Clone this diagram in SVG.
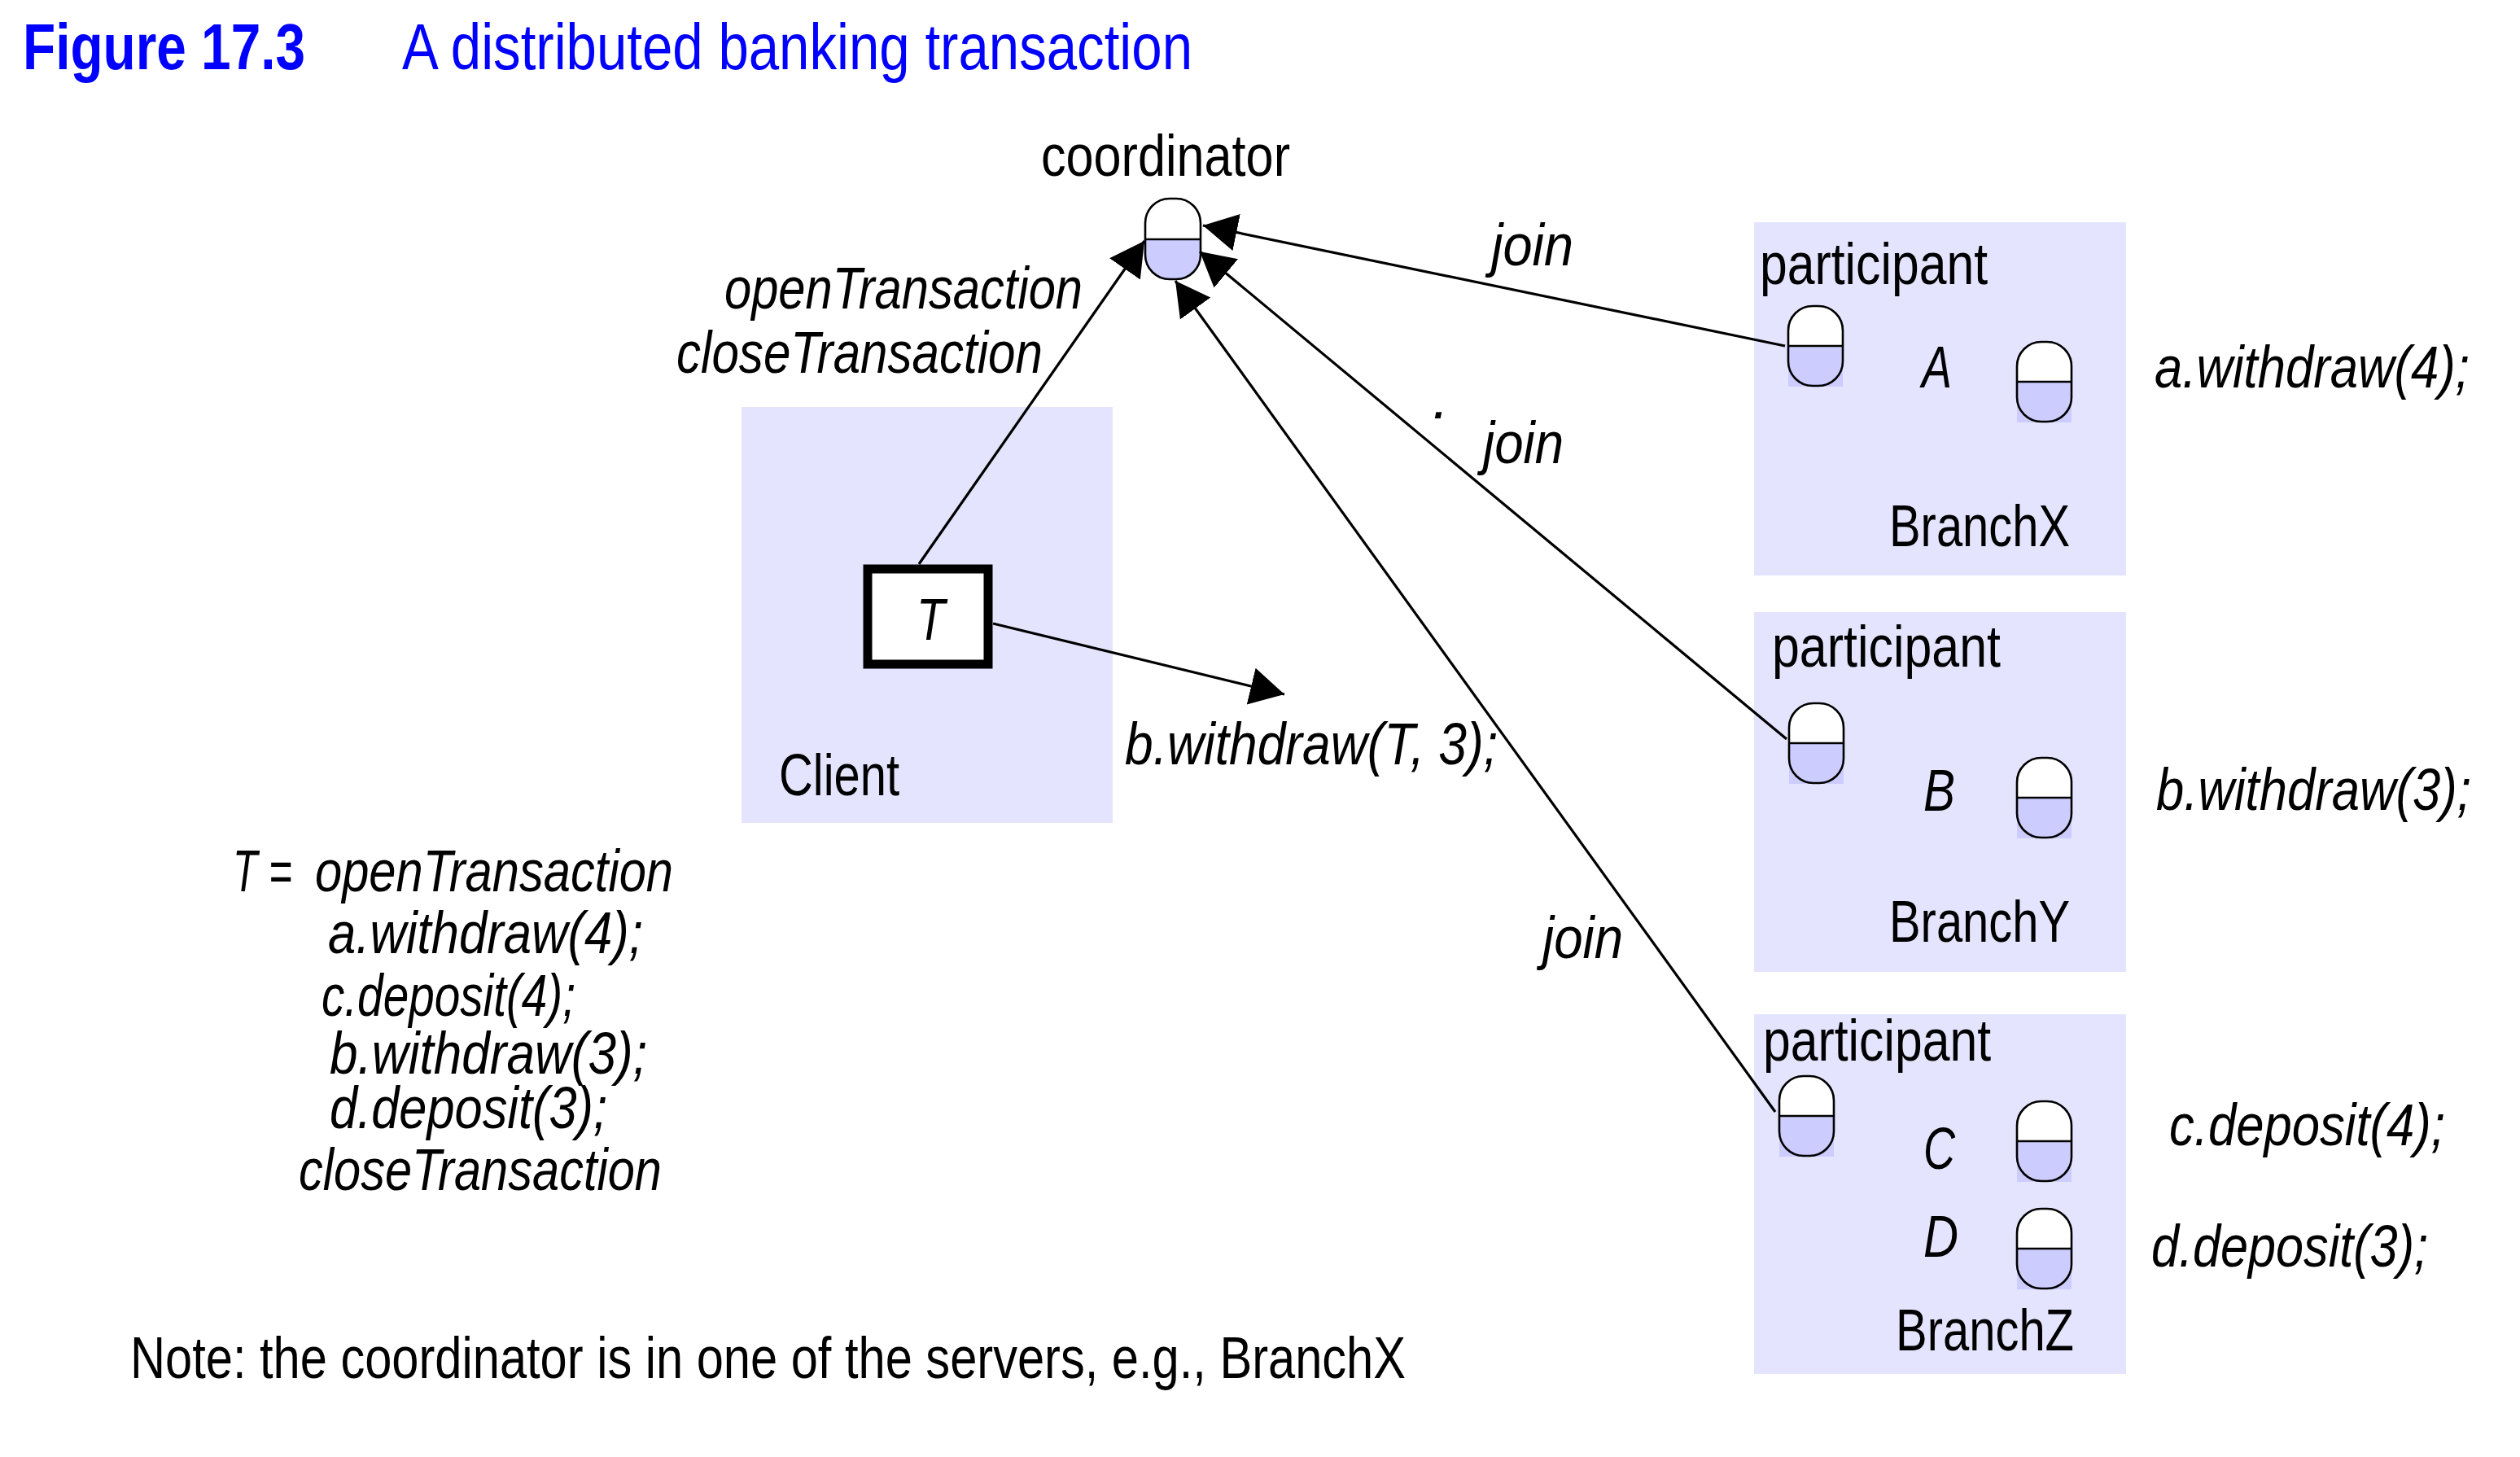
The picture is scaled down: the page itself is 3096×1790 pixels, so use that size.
<svg xmlns="http://www.w3.org/2000/svg" width="3096" height="1790" viewBox="0 0 3096 1790">
<style>
text{font-family:"Liberation Sans",Arial,sans-serif;font-size:72px;fill:#000}
.i{font-style:italic}
.h{font-size:80px;fill:#00f}
.b{font-weight:bold}
.box{fill:#e4e4ff}
.con{stroke:#000;stroke-width:3.2;fill:none;marker-end:url(#arrow)}
.out{fill:none;stroke:#000;stroke-width:2.6}
</style>
<defs>
<marker id="arrow" markerUnits="userSpaceOnUse" markerWidth="44" markerHeight="50" viewBox="0 0 44 50" refX="42" refY="25" orient="auto"><path d="M0 2L42 25L0 48Z" fill="#000"/></marker>
<g id="pill">
<rect x="1" y="50" width="67" height="50" fill="#ccf"/>
<path d="M1 50V31A30 30 0 0 1 31 1H38A30 30 0 0 1 68 31V50Z" fill="#fff"/>
<path class="out" d="M1 31A30 30 0 0 1 31 1H38A30 30 0 0 1 68 31V69A30 30 0 0 1 38 99H31A30 30 0 0 1 1 69ZM1 50H68"/>
</g>
</defs>
<g id="title">
<text class="h b" x="28" y="85" textLength="347" lengthAdjust="spacingAndGlyphs">Figure 17.3</text>
<text class="h" x="494" y="85" textLength="971" lengthAdjust="spacingAndGlyphs">A distributed banking transaction</text>
</g>
<g id="client">
<rect class="box" x="911" y="500" width="456" height="511"/>
<text x="957" y="977" textLength="148" lengthAdjust="spacingAndGlyphs">Client</text>
</g>
<g id="branchX">
<rect class="box" x="2155" y="273" width="457" height="434"/>
<text x="2162" y="349" textLength="280" lengthAdjust="spacingAndGlyphs">participant</text>
<text class="i" x="2361" y="476" textLength="37" lengthAdjust="spacingAndGlyphs">A</text>
<text x="2321" y="671" textLength="222" lengthAdjust="spacingAndGlyphs">BranchX</text>
<use href="#pill" x="2196" y="375"/>
<use href="#pill" x="2477" y="419"/>
</g>
<g id="branchY">
<rect class="box" x="2155" y="752" width="457" height="442"/>
<text x="2177" y="819" textLength="281" lengthAdjust="spacingAndGlyphs">participant</text>
<text class="i" x="2363" y="996" textLength="39" lengthAdjust="spacingAndGlyphs">B</text>
<text x="2321" y="1157" textLength="222" lengthAdjust="spacingAndGlyphs">BranchY</text>
<use href="#pill" x="2197" y="863"/>
<use href="#pill" x="2477" y="930"/>
</g>
<g id="branchZ">
<rect class="box" x="2155" y="1246" width="457" height="442"/>
<text x="2166" y="1303" textLength="280" lengthAdjust="spacingAndGlyphs">participant</text>
<text class="i" x="2363" y="1436" textLength="39" lengthAdjust="spacingAndGlyphs">C</text>
<text class="i" x="2363" y="1544" textLength="43" lengthAdjust="spacingAndGlyphs">D</text>
<text x="2329" y="1659" textLength="219" lengthAdjust="spacingAndGlyphs">BranchZ</text>
<use href="#pill" x="2185" y="1321"/>
<use href="#pill" x="2477" y="1352"/>
<use href="#pill" x="2477" y="1484"/>
</g>
<g id="coordinator">
<text x="1279" y="216" textLength="306" lengthAdjust="spacingAndGlyphs">coordinator</text>
<path d="M1407 294V313A30 30 0 0 0 1437 343H1445A30 30 0 0 0 1475 313V294Z" fill="#ccf"/>
<path class="out" d="M1407 274A30 30 0 0 1 1437 244H1445A30 30 0 0 1 1475 274V313A30 30 0 0 1 1445 343H1437A30 30 0 0 1 1407 313ZM1407 294H1475"/>
</g>
<g id="transactionT">
<rect x="1066" y="699" width="148" height="117" fill="#fff" stroke="#000" stroke-width="11"/>
<text class="i" x="1126" y="786" textLength="35" lengthAdjust="spacingAndGlyphs">T</text>
</g>
<g id="connectors">
<line class="con" x1="1129" y1="693" x2="1406" y2="296"/>
<line class="con" x1="2193" y1="425" x2="1478" y2="277"/>
<line class="con" x1="2195" y1="908" x2="1474" y2="309"/>
<line class="con" x1="2181" y1="1366" x2="1444" y2="345"/>
<line class="con" x1="1220" y1="766" x2="1578" y2="853"/>
</g>
<g id="labels">
<text class="i" x="890" y="379" textLength="440" lengthAdjust="spacingAndGlyphs">openTransaction</text>
<text class="i" x="831" y="458" textLength="450" lengthAdjust="spacingAndGlyphs">closeTransaction</text>
<text class="i" x="1832" y="326" textLength="101" lengthAdjust="spacingAndGlyphs">join</text>
<text class="i" x="1822" y="569" textLength="99" lengthAdjust="spacingAndGlyphs">join</text>
<text class="i" x="1895" y="1177" textLength="99" lengthAdjust="spacingAndGlyphs">join</text>
<text class="i" x="1760" y="514">.</text>
<text class="i" x="1382" y="939" textLength="458" lengthAdjust="spacingAndGlyphs">b.withdraw(T, 3);</text>
<text class="i" x="2647" y="476" textLength="387" lengthAdjust="spacingAndGlyphs">a.withdraw(4);</text>
<text class="i" x="2649" y="995" textLength="387" lengthAdjust="spacingAndGlyphs">b.withdraw(3);</text>
<text class="i" x="2665" y="1407" textLength="339" lengthAdjust="spacingAndGlyphs">c.deposit(4);</text>
<text class="i" x="2643" y="1556" textLength="340" lengthAdjust="spacingAndGlyphs">d.deposit(3);</text>
</g>
<g id="code">
<text class="i" x="286" y="1095" textLength="73" lengthAdjust="spacingAndGlyphs">T =</text>
<text class="i" x="387" y="1095" textLength="440" lengthAdjust="spacingAndGlyphs">openTransaction</text>
<text class="i" x="403" y="1171" textLength="387" lengthAdjust="spacingAndGlyphs">a.withdraw(4);</text>
<text class="i" x="395" y="1248" textLength="312" lengthAdjust="spacingAndGlyphs">c.deposit(4);</text>
<text class="i" x="405" y="1319" textLength="390" lengthAdjust="spacingAndGlyphs">b.withdraw(3);</text>
<text class="i" x="405" y="1386" textLength="341" lengthAdjust="spacingAndGlyphs">d.deposit(3);</text>
<text class="i" x="367" y="1462" textLength="446" lengthAdjust="spacingAndGlyphs">closeTransaction</text>
</g>
<g id="note">
<text x="160" y="1693" textLength="1567" lengthAdjust="spacingAndGlyphs">Note: the coordinator is in one of the servers, e.g., BranchX</text>
</g>
</svg>
